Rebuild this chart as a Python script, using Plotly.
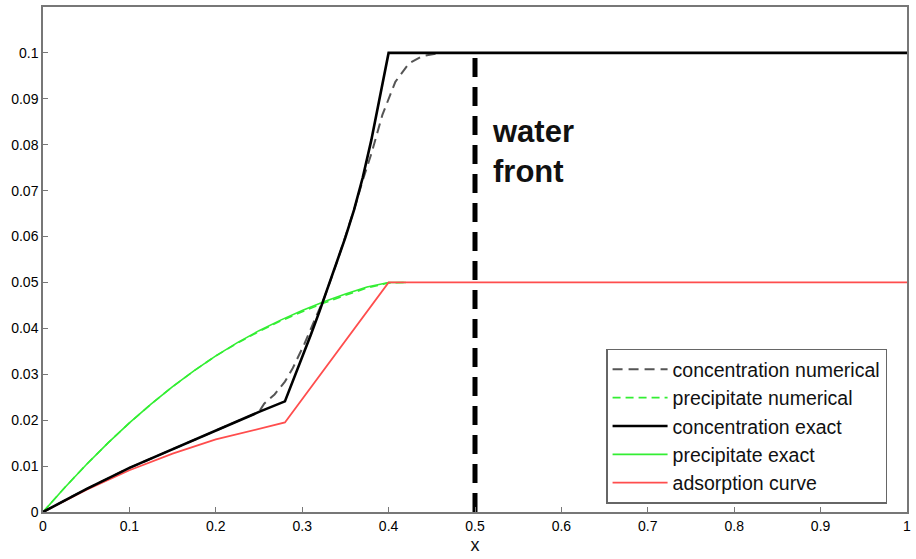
import plotly.graph_objects as go

# concentration exact
conc_x = [0, 0.05, 0.1, 0.15, 0.2, 0.25, 0.28, 0.29, 0.30, 0.31, 0.32, 0.33, 0.34, 0.35, 0.36, 0.37, 0.38, 0.39, 0.40, 0.5, 1.0]
conc_y = [0, 0.0050, 0.0096, 0.0137, 0.0178, 0.0218, 0.0241, 0.0288, 0.0336, 0.0386, 0.0437, 0.0490, 0.0543, 0.0598, 0.0658, 0.0728, 0.0810, 0.0903, 0.1, 0.1, 0.1]

# concentration numerical
cnum_x = [0, 0.05, 0.1, 0.15, 0.2, 0.25, 0.256, 0.268, 0.28, 0.289, 0.3025, 0.316, 0.3256, 0.34, 0.36, 0.37, 0.38, 0.3928, 0.4078, 0.4235, 0.439, 0.46, 1.0]
cnum_y = [0, 0.0050, 0.0096, 0.0137, 0.0178, 0.0218, 0.0236, 0.0256, 0.0284, 0.0313, 0.0366, 0.0424, 0.0467, 0.0543, 0.0658, 0.0722, 0.0780, 0.0865, 0.0937, 0.0977, 0.0993, 0.1, 0.1]

# precipitate exact
prec_x = [0, 0.025, 0.05, 0.075, 0.1, 0.125, 0.15, 0.175, 0.2, 0.225, 0.25, 0.275, 0.3, 0.325, 0.35, 0.375, 0.4, 0.42]
prec_y = [0, 0.0053, 0.0103, 0.0150, 0.0194, 0.0235, 0.0273, 0.0308, 0.0340, 0.0369, 0.0395, 0.0418, 0.0439, 0.0458, 0.0475, 0.0490, 0.05, 0.05]

# precipitate numerical
pnum_x = [0, 0.025, 0.05, 0.075, 0.1, 0.125, 0.15, 0.175, 0.2, 0.225, 0.25, 0.275, 0.3, 0.325, 0.35, 0.375, 0.4, 0.42]
pnum_y = [0, 0.0053, 0.0103, 0.0150, 0.0194, 0.0235, 0.0273, 0.0308, 0.0340, 0.0368, 0.0393, 0.0416, 0.0436, 0.0455, 0.0472, 0.0488, 0.0499, 0.05]

# adsorption curve
ads_x = [0, 0.05, 0.1, 0.15, 0.2, 0.25, 0.28, 0.4, 1.0]
ads_y = [0, 0.0048, 0.0091, 0.0127, 0.0158, 0.0181, 0.0195, 0.05, 0.05]

front_x = [0.5, 0.5]
front_y = [0, 0.1]

x_ticks = [0, 0.1, 0.2, 0.3, 0.4, 0.5, 0.6, 0.7, 0.8, 0.9, 1]
x_labels = ["0", "0.1", "0.2", "0.3", "0.4", "0.5", "0.6", "0.7", "0.8", "0.9", "1"]
y_ticks = [0, 0.01, 0.02, 0.03, 0.04, 0.05, 0.06, 0.07, 0.08, 0.09, 0.1]
y_labels = ["0", "0.01", "0.02", "0.03", "0.04", "0.05", "0.06", "0.07", "0.08", "0.09", "0.1"]

GREEN = "#33ee33"
RED = "#ff4d4d"

fig = go.Figure()
fig.add_trace(go.Scatter(x=front_x, y=front_y, mode="lines", showlegend=False,
                         line=dict(color="black", width=5, dash="19px,10px")))
fig.add_trace(go.Scatter(x=prec_x, y=prec_y, mode="lines", name="precipitate exact",
                         line=dict(color=GREEN, width=1.6), legendrank=4))
fig.add_trace(go.Scatter(x=pnum_x, y=pnum_y, mode="lines", name="precipitate numerical",
                         line=dict(color=GREEN, width=1.6, dash="8px,5px"), legendrank=2))
fig.add_trace(go.Scatter(x=ads_x, y=ads_y, mode="lines", name="adsorption curve",
                         line=dict(color=RED, width=1.8), legendrank=5))
fig.add_trace(go.Scatter(x=cnum_x, y=cnum_y, mode="lines", name="concentration numerical",
                         line=dict(color="#555555", width=2, dash="10px,6px"), legendrank=1))
fig.add_trace(go.Scatter(x=conc_x, y=conc_y, mode="lines", name="concentration exact",
                         line=dict(color="black", width=2.6), legendrank=3))

fig.add_annotation(x=0.517, y=0.0785, xref="x", yref="y", text="<b>water<br>front</b>",
                   showarrow=False, xanchor="left", yanchor="middle", align="left",
                   font=dict(size=31, color="#111", family="Liberation Sans, Arial"))

axis_common = dict(showgrid=False, zeroline=False, showline=True, linecolor="#777",
                   linewidth=1.5, mirror=True, ticks="inside", ticklen=5, tickcolor="#777",
                   tickfont=dict(size=14, color="#000", family="Liberation Sans, Arial"))
fig.update_xaxes(range=[0, 1], tickvals=x_ticks, ticktext=x_labels,
                 title=dict(text="x", font=dict(size=18, color="#111"), standoff=6),
                 **axis_common)
fig.update_yaxes(range=[0, 0.11], tickvals=y_ticks, ticktext=y_labels, **axis_common)

fig.update_layout(
    width=916, height=559,
    margin=dict(l=43, r=6, t=5, b=47),
    plot_bgcolor="white", paper_bgcolor="white",
    font=dict(family="Liberation Sans, Arial", color="#111"),
    legend=dict(x=0.6517, y=0.3235, xanchor="left", yanchor="top",
                bgcolor="white", bordercolor="#666", borderwidth=1.5,
                font=dict(size=19.5, color="#111"), tracegroupgap=0,
                itemwidth=55),
)

fig.write_html("out.html")
